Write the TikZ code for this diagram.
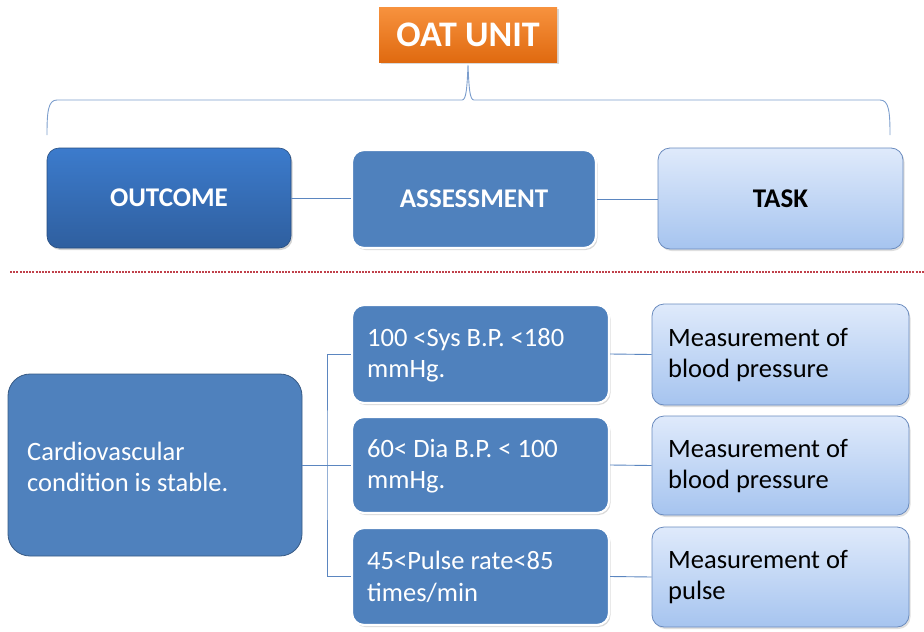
\documentclass[tikz,border=0pt]{standalone}
\usepackage{fontspec}
\setmainfont{Carlito}
\usetikzlibrary{shadows}
\definecolor{bmid}{HTML}{4F81BD}
\definecolor{bdark}{HTML}{2F5F9F}
\definecolor{btop}{HTML}{3C7BCC}
\definecolor{ltop}{HTML}{DFEAFB}
\definecolor{lbot}{HTML}{A6C4EF}
\definecolor{lborder}{HTML}{6A8BBE}
\definecolor{otop}{HTML}{F7923E}
\definecolor{obot}{HTML}{E06A10}
\definecolor{conn}{HTML}{5B86C0}
\definecolor{redd}{HTML}{C0404A}
\tikzset{
  box/.style={rounded corners=12pt, minimum width=#1, inner sep=0pt, font=\fontsize{27}{30}\selectfont\bfseries},
  darkbox/.style={box=244pt, minimum height=100pt, draw=bdark!80!black, line width=0.6pt, top color=btop, bottom color=bdark, text=white,
    drop shadow={shadow xshift=1.5pt, shadow yshift=-2pt, opacity=0.35}},
  midbox/.style={box=#1, draw=white, line width=2.2pt, fill=bmid, text=white,
    drop shadow={shadow xshift=1.5pt, shadow yshift=-2pt, opacity=0.3}},
  lightbox/.style={box=#1, draw=lborder, line width=0.8pt, top color=ltop, bottom color=lbot, text=black,
    drop shadow={shadow xshift=1.5pt, shadow yshift=-2pt, opacity=0.25}},
  txt/.style={font=\fontsize{26.5}{31.5}\selectfont, align=left, inner sep=0pt, anchor=west},
  conline/.style={draw=conn, line width=0.9pt},
}
\begin{document}
\begin{tikzpicture}[x=1pt,y=-1pt]
\useasboundingbox (0,0) rectangle (924,632);
% title
\node[minimum width=178pt, minimum height=55pt, top color=otop, bottom color=obot, text=white,
  font=\fontsize{36}{38}\selectfont\bfseries, inner sep=0pt,
  drop shadow={shadow xshift=1.5pt, shadow yshift=-2pt, opacity=0.3}] (oat) at (468,34.5) {OAT UNIT\hspace{16pt}};
% brace
\coordinate (bl) at (47,135);
\coordinate (br) at (890,135);
\coordinate (bp) at (468,65);
\draw[conline, draw=conn!80]
  (bl) .. controls (47,112) and (48,100) .. (57,100) -- (462,100)
  .. controls (466,100) and (467,90) .. (bp)
  .. controls (469,90) and (470,100) .. (474,100) -- (880,100)
  .. controls (889,100) and (890,112) .. (br);
% top row
\node[darkbox] (outcome) at (169,198) {OUTCOME};
\node[midbox=244pt, minimum height=98pt] (assess) at (474,199) {ASSESSMENT};
\node[lightbox=245pt, minimum height=101pt] (task) at (780.5,198.5) {TASK};
\draw[conline] (outcome.east) -- (outcome.east -| assess.west);
\draw[conline] (assess.east) -- (assess.east -| task.west);
% dashed separator
\coordinate (dl) at (10,272);
\coordinate (dr) at (924,272);
\draw[draw=redd, line width=1.1pt, dash pattern=on 2pt off 1.2pt] (dl) -- (dr);
% bottom
\node[rounded corners=22pt, minimum width=294pt, minimum height=182pt, fill=bmid, draw=bmid!70!black, line width=0.8pt,
  inner sep=0pt] (cardio) at (155,465) {};
\node[txt, text=white] at (27,467) {Cardiovascular\\condition is stable.};

\node[midbox=257pt, minimum height=98pt] (a1) at (480.5,354) {};
\node[midbox=257pt, minimum height=96pt] (a2) at (480.5,465) {};
\node[midbox=257pt, minimum height=97pt] (a3) at (480.5,576.5) {};
\node[txt, text=white] at (367,355) {100 <Sys B.P. <180\\mmHg.};
\node[txt, text=white] at (367,466) {60< Dia B.P. < 100\\mmHg.};
\node[txt, text=white] at (367,577) {45<Pulse rate<85\\times/min};

\node[lightbox=257pt, minimum height=101pt] (t1) at (780.5,354.5) {};
\node[lightbox=257pt, minimum height=99pt] (t2) at (780.5,465.5) {};
\node[lightbox=257pt, minimum height=100pt] (t3) at (780.5,577) {};
\node[txt] at (668,355) {Measurement of\\blood pressure};
\node[txt] at (668,466) {Measurement of\\blood pressure};
\node[txt] at (668,577) {Measurement of\\pulse};

\coordinate (jx) at (327,465);
\draw[conline] (cardio.east) -- (jx);
\draw[conline] (a1.west) -| (jx) |- (a3.west);
\draw[conline] (jx) -- (a2.west);
\draw[conline] (a1.east) -- (t1.west);
\draw[conline] (a2.east) -- (t2.west);
\draw[conline] (a3.east) -- (t3.west);
\end{tikzpicture}
\end{document}
